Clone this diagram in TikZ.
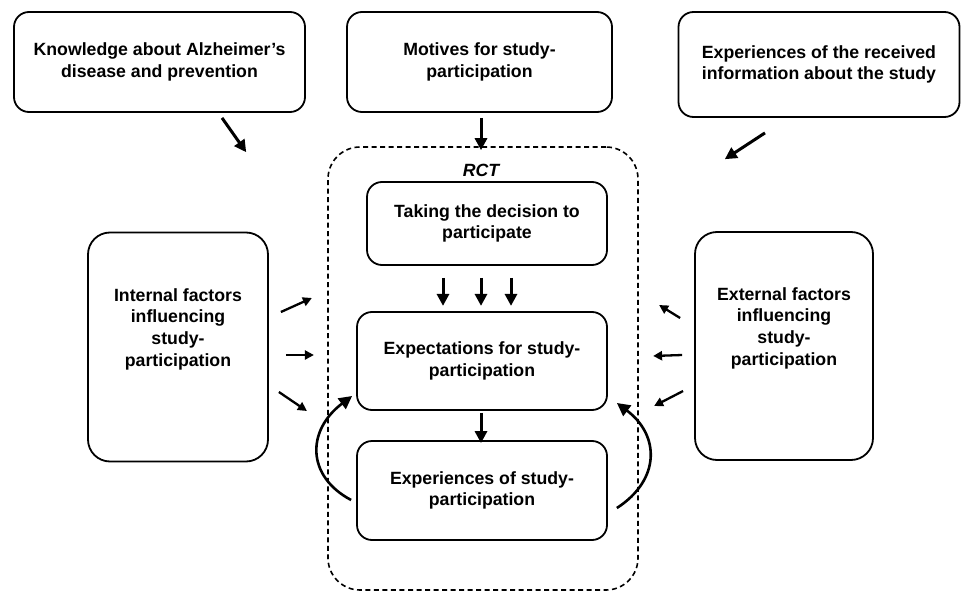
\documentclass[tikz,border=0pt]{standalone}
\usepackage{fontspec}
\setmainfont{Liberation Sans}
\usetikzlibrary{arrows.meta}

\begin{document}
\begin{tikzpicture}[x=1pt,y=1pt,
        txt/.style={font=\bfseries\fontsize{17.7}{21.7}\selectfont, align=center, inner sep=0pt},
        topbox/.style={draw, line width=1.8pt, rounded corners=15pt, txt},
        stagebox/.style={draw, line width=1.8pt, rounded corners=15pt, txt},
        factorbox/.style={draw, line width=1.8pt, rounded corners=22pt, minimum width=180pt, minimum height=229pt},
        arr/.style={line width=3pt, -{Triangle[length=12pt,width=12pt]}},
        sarr/.style={line width=2.3pt, -{Triangle[length=9pt,width=9pt]}},
        loopy/.style={line width=2.6pt, -{Triangle[length=13pt,width=13pt]}}]
        \useasboundingbox (0,0) rectangle (961,-591);
        % top row
        \node[topbox, minimum width=291pt, minimum height=100pt] (know) at (159.5,-62) {Knowledge about Alzheimer’s\\disease and prevention};
        \node[topbox, minimum width=265pt, minimum height=100pt] (motives) at (479.5,-62) {Motives for study-\\participation};
        \node[topbox, minimum width=281pt, minimum height=105pt] (recinfo) at (819,-64.5) {Experiences of the received\\information about the study};
        % the trial
        \node[draw, dashed, dash pattern=on 5pt off 3.5pt, line width=1.6pt, rounded corners=32pt, minimum width=310pt, minimum height=443pt] (rct) at (483,-368.5) {};
        \node[txt, font=\bfseries\itshape\fontsize{17.7}{21.7}\selectfont] (rctlabel) at (481,-170) {RCT};
        \node[stagebox, minimum width=240pt, minimum height=83pt] (taking) at (487,-223.5) {Taking the decision to\\participate};
        \node[stagebox, minimum width=250pt, minimum height=98pt] (expect) at (482,-361) {Expectations for study-\\participation};
        \node[stagebox, minimum width=250pt, minimum height=99pt] (exper) at (482,-490.5) {Experiences of study-\\participation};
        % factors
        \node[factorbox] (internal) at (178,-347) {};
        \node[txt] (internaltext) at (178,-329) {Internal factors\\influencing\\study-\\participation};
        \node[factorbox, minimum width=178pt, minimum height=228pt] (external) at (784,-346) {};
        \node[txt] (externaltext) at (784,-328) {External factors\\influencing\\study-\\participation};
        % arrows from the top
        \draw[arr] ([shift={(62.5,-5)}]know.south) -- ([shift={(-81,-6)}]rct.north west);
        \draw[arr] ([shift={(1.5,-5)}]motives.south) -- ([shift={(-2,-4)}]rct.north);
        \draw[arr] ([shift={(-54,-15)}]recinfo.south) -- ([shift={(86,-13)}]rct.north east);
        % inside the trial
        \draw[arr] ([shift={(-44,-12)}]taking.south) -- ([shift={(-44,-40)}]taking.south);
        \draw[arr] ([shift={(-6,-12)}]taking.south) -- ([shift={(-6,-40)}]taking.south);
        \draw[arr] ([shift={(24,-12)}]taking.south) -- ([shift={(24,-40)}]taking.south);
        \draw[arr] ([shift={(-1,-2)}]expect.south) -- ([shift={(-1,-3)}]exper.north);
        \draw[loopy] ([shift={(-5,-9.5)}]exper.west) .. controls +(152:51) and +(217:57) .. ([shift={(-4,-35)}]expect.west);
        \draw[loopy] ([shift={(9,-17.5)}]exper.east) .. controls +(33:52) and +(323:54) .. ([shift={(9,-42)}]expect.east);
        % internal factors
        \draw[sarr] ([shift={(12,35)}]internal.east) -- ([shift={(43,49)}]internal.east);
        \draw[sarr] ([shift={(17,-8)}]internal.east) -- ([shift={(45,-8)}]internal.east);
        \draw[sarr] ([shift={(10,-45)}]internal.east) -- ([shift={(38,-64)}]internal.east);
        % external factors
        \draw[sarr] ([shift={(-14,28)}]external.west) -- ([shift={(-35,41)}]external.west);
        \draw[sarr] ([shift={(-12,-9)}]external.west) -- ([shift={(-41,-10)}]external.west);
        \draw[sarr] ([shift={(-11,-45)}]external.west) -- ([shift={(-40,-60)}]external.west);
\end{tikzpicture}
\end{document}
